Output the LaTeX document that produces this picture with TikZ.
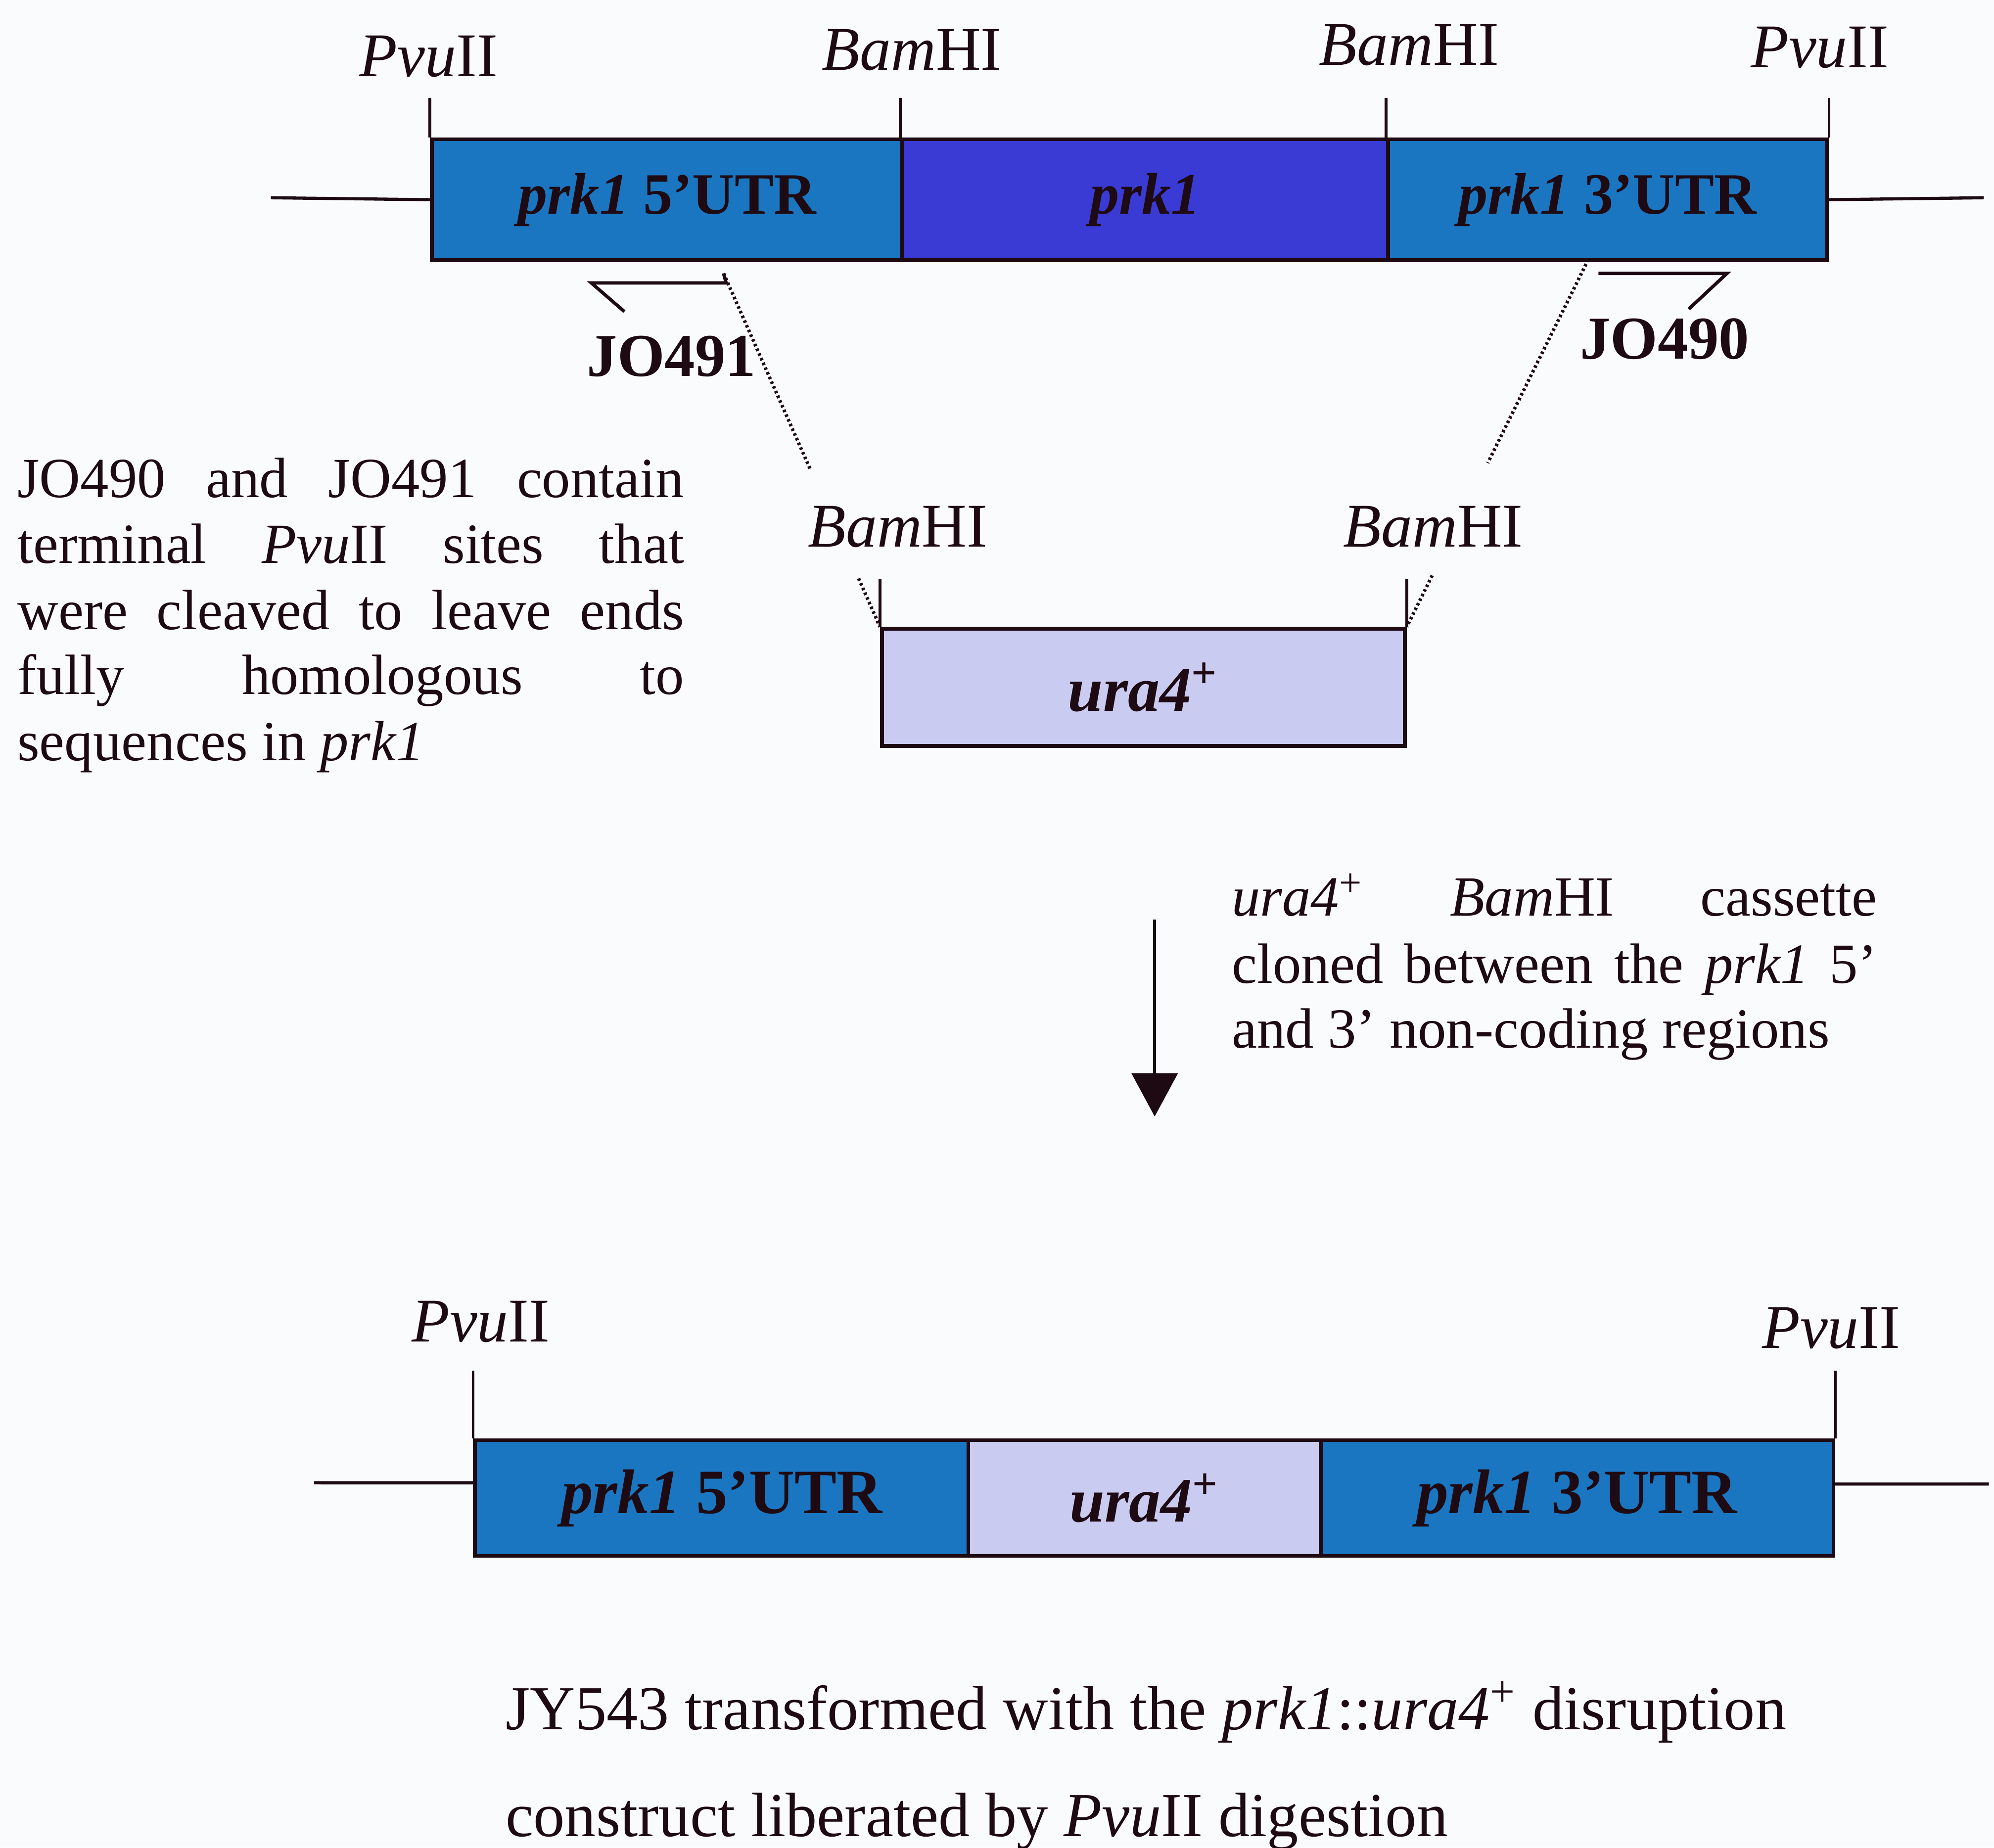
\documentclass[tikz,border=0pt]{standalone}
\usepackage{fontspec}
\setmainfont{Liberation Serif}
\usetikzlibrary{arrows.meta,calc}

\definecolor{utr}{HTML}{1A76C0}
\definecolor{cdsblue}{HTML}{3A3AD4}
\definecolor{uralav}{HTML}{CACBF0}
\definecolor{ink}{HTML}{1E0A12}
\definecolor{paper}{HTML}{FAFBFD}

\begin{document}
\begin{tikzpicture}[x=0.01cm,y=-0.01cm,
  every node/.style={text=ink},
  seg/.style={draw=ink, line width=0.85pt, inner sep=0pt, anchor=north west},
  bb/.style={draw=ink, line width=0.7pt},
  tick/.style={draw=ink, line width=0.6pt},
  primer/.style={draw=ink, line width=0.75pt, line join=miter},
  dotline/.style={draw=ink, line width=0.75pt, dash pattern=on 0.55pt off 0.6pt},
  site/.style={font=\fontsize{13.9pt}{16pt}\selectfont, inner sep=0pt, anchor=base},
  oligo/.style={font=\fontsize{13.6pt}{16pt}\selectfont\bfseries, inner sep=0pt, anchor=base},
  topbox/.style={font=\fontsize{13.1pt}{15pt}\selectfont\bfseries},
  lowbox/.style={font=\fontsize{14.1pt}{16pt}\selectfont\bfseries},
  note/.style={font=\fontsize{12.7pt}{15pt}\selectfont, inner sep=0pt, anchor=base west},
  caption/.style={font=\fontsize{14pt}{16pt}\selectfont, inner sep=0pt, anchor=base west}]

\fill[paper] (0,0) rectangle (1568,1453);
\useasboundingbox (0,0) rectangle (1568,1453);

% ---------- wild-type prk1 locus ----------
\node[seg, fill=utr, minimum width=3.70cm, minimum height=0.95cm, topbox] (t5) at (338,108) {\textit{prk1} 5’UTR};
\node[seg, fill=cdsblue, minimum width=3.82cm, minimum height=0.95cm, topbox] (tc) at (708,108) {\textit{prk1}};
\node[seg, fill=utr, minimum width=3.45cm, minimum height=0.95cm, topbox] (t3) at (1090,108) {\textit{prk1} 3’UTR};

\coordinate (tL) at (213,155.5);
\coordinate (tR) at (1560,155.5);
\draw[bb] (tL) -- (t5.west);
\draw[bb] (t3.east) -- (tR);

\draw[tick] (t5.north west) -- ++(0,-31);
\draw[tick] (tc.north west) -- ++(0,-31);
\draw[tick] (t3.north west) -- ++(0,-31);
\draw[tick] (t3.north east) -- ++(0,-31);

\node[site] (sPv1) at (337,60) {\textit{Pvu}II};
\node[site] (sBa1) at (717,55) {\textit{Bam}HI};
\node[site] (sBa2) at (1108,51) {\textit{Bam}HI};
\node[site] (sPv2) at (1431,53) {\textit{Pvu}II};

% primers
\draw[primer] (491,245) -- (465,222.5) -- (571,222.5) -- (569,215);
\coordinate (p491) at (569,215);
\node[oligo] (jo491) at (528,296) {JO491};

\draw[primer] (1257,215) -- (1358,215) -- (1328,243);
\coordinate (p490) at (1249,204);
\node[oligo] (jo490) at (1309,282) {JO490};

% ---------- ura4+ BamHI cassette ----------
\node[seg, fill=uralav, minimum width=4.11cm, minimum height=0.92cm,
      font=\fontsize{14.2pt}{16pt}\selectfont\bfseries] (ura) at (692,493) {\textit{ura4}\textsuperscript{+}};
\draw[tick] (ura.north west) -- ++(0,-38);
\draw[tick] (ura.north east) -- ++(0,-38);
\node[site] (sBa3) at (706,430) {\textit{Bam}HI};
\node[site] (sBa4) at (1127,430) {\textit{Bam}HI};

% homology guides, interrupted at the site labels
\draw[dotline] (p491) -- ($(p491)!0.556!(ura.north west)$);
\draw[dotline] ($(p491)!0.863!(ura.north west)$) -- (ura.north west);
\draw[dotline] (p490) -- ($(p490)!0.554!(ura.north east)$);
\draw[dotline] ($(p490)!0.86!(ura.north east)$) -- (ura.north east);

% left note
\node[note] (n1) at (13,391) {\makebox[5.24cm][s]{JO490 and JO491 contain}};
\node[note] (n2) at (13,443) {\makebox[5.24cm][s]{terminal \textit{Pvu}II sites that}};
\node[note] (n3) at (13,495) {\makebox[5.24cm][s]{were cleaved to leave ends}};
\node[note] (n4) at (13,546) {\makebox[5.24cm][s]{fully homologous to}};
\node[note] (n5) at (13,598) {sequences in \textit{prk1}};

% ---------- cloning step ----------
\coordinate (arrTop) at (908,723);
\coordinate (arrTip) at (908,878);
\draw[draw=ink, fill=ink, line width=0.7pt, -{Triangle[width=0.36cm,length=0.34cm]}] (arrTop) -- (arrTip);

\node[note] (r1) at (968,720) {\makebox[5.07cm][s]{\textit{ura4}\textsuperscript{+} \textit{Bam}HI cassette}};
\node[note] (r2) at (968,773) {\makebox[5.07cm][s]{cloned between the \textit{prk1} 5’}};
\node[note] (r3) at (968,824) {and 3’ non-coding regions};

% ---------- disrupted allele ----------
\node[seg, fill=utr, minimum width=3.88cm, minimum height=0.91cm, lowbox] (b5) at (372,1131) {\textit{prk1} 5’UTR};
\node[seg, fill=uralav, minimum width=2.77cm, minimum height=0.91cm, lowbox] (bu) at (760,1131) {\textit{ura4}\textsuperscript{+}};
\node[seg, fill=utr, minimum width=4.03cm, minimum height=0.91cm, lowbox] (b3) at (1037,1131) {\textit{prk1} 3’UTR};

\coordinate (bL) at (247,1166);
\coordinate (bR) at (1564,1167);
\draw[bb] (bL) -- ([yshift=-0.35cm]b5.north west);
\draw[bb] ([yshift=-0.36cm]b3.north east) -- (bR);

\draw[tick] (b5.north west) -- ++(0,-53);
\draw[tick] (b3.north east) -- ++(0,-53);
\node[site] (sPv3) at (378,1055) {\textit{Pvu}II};
\node[site] (sPv4) at (1440,1060) {\textit{Pvu}II};

\node[caption] (c1) at (397,1360) {JY543 transformed with the \textit{prk1}::\textit{ura4}\textsuperscript{+} disruption};
\node[caption] (c2) at (397,1444) {construct liberated by \textit{Pvu}II digestion};

\end{tikzpicture}
\end{document}
